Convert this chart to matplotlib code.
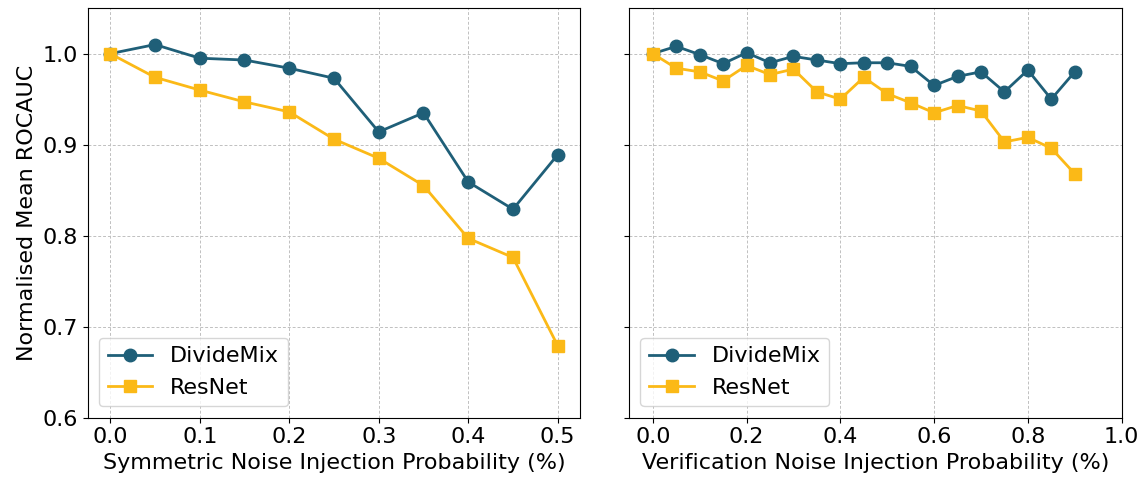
import matplotlib
matplotlib.use("Agg")
import matplotlib.pyplot as plt

sym_x = [0.0, 0.05, 0.1, 0.15, 0.2, 0.25, 0.3, 0.35, 0.4, 0.45, 0.5]
sym_dividemix = [1.0, 1.010, 0.995, 0.993, 0.984, 0.973, 0.914, 0.935, 0.859, 0.829, 0.889]
sym_resnet = [1.0, 0.974, 0.960, 0.947, 0.936, 0.906, 0.885, 0.855, 0.797, 0.776, 0.679]

ver_x = [0.0, 0.05, 0.1, 0.15, 0.2, 0.25, 0.3, 0.35, 0.4, 0.45, 0.5, 0.55, 0.6, 0.65,
         0.7, 0.75, 0.8, 0.85, 0.9]
ver_dividemix = [1.0, 1.008, 0.999, 0.989, 1.001, 0.990, 0.997, 0.993, 0.989, 0.990,
                 0.990, 0.986, 0.965, 0.975, 0.980, 0.958, 0.982, 0.950, 0.980]
ver_resnet = [1.0, 0.984, 0.980, 0.970, 0.987, 0.977, 0.983, 0.958, 0.950, 0.974,
              0.956, 0.946, 0.935, 0.943, 0.937, 0.903, 0.908, 0.896, 0.868]

xlabels = ["Symmetric Noise Injection Probability (%)",
           "Verification Noise Injection Probability (%)"]
ylabel = "Normalised Mean ROCAUC"
series_names = ["DivideMix", "ResNet"]

c_dm = "#1f5f78"
c_rn = "#fbb917"
FS = 16

fig, axes = plt.subplots(1, 2, figsize=(11.41, 4.8), dpi=100, sharey=True)
fig.subplots_adjust(left=0.077, right=0.983, top=0.983, bottom=0.13, wspace=0.1)

data = [(sym_x, sym_dividemix, sym_resnet), (ver_x, ver_dividemix, ver_resnet)]
for i, (ax, (x, dm, rn)) in enumerate(zip(axes, data)):
    ax.plot(x, dm, color=c_dm, marker="o", markersize=9, linewidth=2, label=series_names[0])
    ax.plot(x, rn, color=c_rn, marker="s", markersize=9, linewidth=2, label=series_names[1])
    ax.grid(True, linestyle=(0, (3, 2)), color="#c0c0c0", linewidth=0.7)
    ax.set_xlabel(xlabels[i], fontsize=FS)
    ax.tick_params(labelsize=FS)
    ax.legend(loc="lower left", fontsize=FS)

axes[0].set_ylabel(ylabel, fontsize=FS)
axes[0].set_ylim(0.6, 1.05)
axes[0].set_yticks([0.6, 0.7, 0.8, 0.9, 1.0])
axes[0].set_xlim(-0.025, 0.525)
axes[0].set_xticks([0.0, 0.1, 0.2, 0.3, 0.4, 0.5])
axes[1].set_xlim(-0.05, 1.0)
axes[1].set_xticks([0.0, 0.2, 0.4, 0.6, 0.8, 1.0])

fig.savefig("out.png", dpi=100)
